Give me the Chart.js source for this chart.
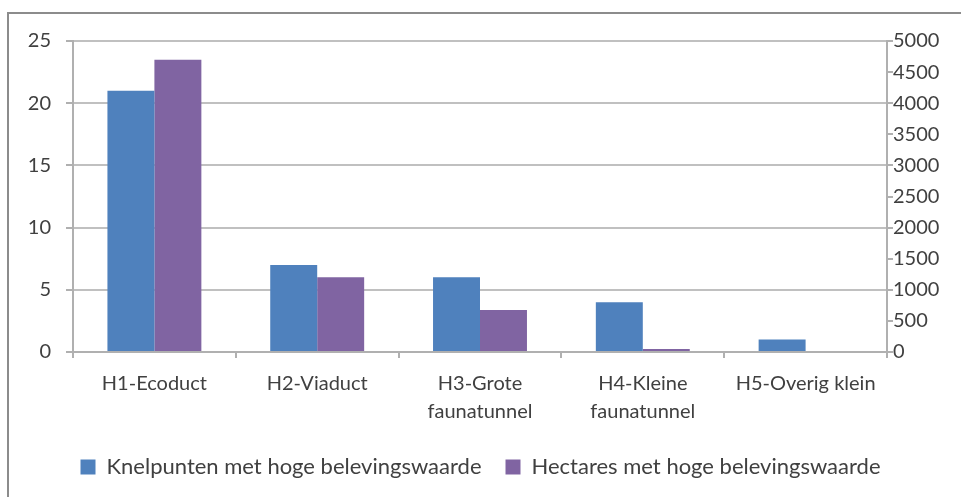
<!DOCTYPE html>
<html>
<head>
<meta charset="utf-8">
<script src="https://cdn.jsdelivr.net/npm/chart.js@4.4.1/dist/chart.umd.min.js"></script>
<style>
html,body{margin:0;padding:0;background:#fff;overflow:hidden;}
#wrap{position:absolute;left:0;top:0;width:961px;height:497px;}
</style>
</head>
<body>
<div id="wrap"><canvas id="c" width="961" height="497"></canvas></div>
<script>
const categories = [["H1-Ecoduct"], ["H2-Viaduct"], ["H3-Grote", "faunatunnel"], ["H4-Kleine", "faunatunnel"], ["H5-Overig klein"]];
const knelpunten = [21, 7, 6, 4, 1];
const hectares = [4700, 1200, 675, 50, 0];
const seriesNames = ["Knelpunten met hoge belevingswaarde", "Hectares met hoge belevingswaarde"];
const leftTicks = [0, 5, 10, 15, 20, 25];
const rightTicks = [0, 500, 1000, 1500, 2000, 2500, 3000, 3500, 4000, 4500, 5000];

const FONT = "Lato, 'Liberation Sans', sans-serif";
const FS = 20;
const TXT = '#404040';

const framePlugin = {
  id: 'frame',
  beforeDraw(chart) {
    const ctx = chart.ctx;
    ctx.save();
    ctx.fillStyle = '#fff';
    ctx.fillRect(0, 0, chart.width, chart.height);
    ctx.strokeStyle = '#8c8c8c';
    ctx.lineWidth = 2;
    ctx.strokeRect(8, 13, chart.width + 20, chart.height + 20);
    ctx.restore();
  }
};

new Chart(document.getElementById('c'), {
  type: 'bar',
  data: {
    labels: categories,
    datasets: [
      { label: seriesNames[0], data: knelpunten, yAxisID: 'y', backgroundColor: '#4F81BD', borderWidth: 0 },
      { label: seriesNames[1], data: hectares, yAxisID: 'y2', backgroundColor: '#8064A2', borderWidth: 0 }
    ]
  },
  options: {
    responsive: false,
    animation: false,
    devicePixelRatio: 1,
    layout: { padding: { top: 41, left: 0, right: 0, bottom: 9 } },
    datasets: { bar: { categoryPercentage: 0.577, barPercentage: 1.0 } },
    plugins: {
      legend: {
        position: 'bottom',
        labels: {
          color: TXT,
          font: { family: FONT, size: 22 },
          boxWidth: 15, boxHeight: 15,
          padding: 24
        }
      },
      tooltip: { enabled: false }
    },
    scales: {
      x: {
        offset: true,
        grid: { offset: true, drawOnChartArea: false, color: '#b0b0b0', lineWidth: 2, tickLength: 6, tickColor: '#b0b0b0' },
        border: { color: '#b0b0b0', width: 2 },
        ticks: { color: TXT, font: { family: FONT, size: FS, lineHeight: 1.4 }, maxRotation: 0, autoSkip: false, padding: 12 },
        afterFit(s) { s.height = 80; }
      },
      y: {
        position: 'left',
        min: 0, max: 25,
        afterBuildTicks(s) { s.ticks = leftTicks.map(v => ({ value: v })); },
        grid: { color: '#c0c0c0', lineWidth: 2, tickLength: 7, tickColor: '#b0b0b0' },
        border: { color: '#b0b0b0', width: 2 },
        ticks: { color: TXT, font: { family: FONT, size: FS }, padding: 15, callback: v => String(v) },
        afterFit(s) { s.width = 73; }
      },
      y2: {
        position: 'right',
        min: 0, max: 5000,
        afterBuildTicks(s) { s.ticks = rightTicks.map(v => ({ value: v })); },
        grid: { drawOnChartArea: false, color: '#b0b0b0', lineWidth: 2, tickLength: 6, tickColor: '#b0b0b0' },
        border: { color: '#b0b0b0', width: 2 },
        ticks: { color: TXT, font: { family: FONT, size: FS }, padding: 0, callback: v => String(v) },
        afterFit(s) { s.width = 74; }
      }
    }
  },
  plugins: [framePlugin]
});
</script>
</body>
</html>
